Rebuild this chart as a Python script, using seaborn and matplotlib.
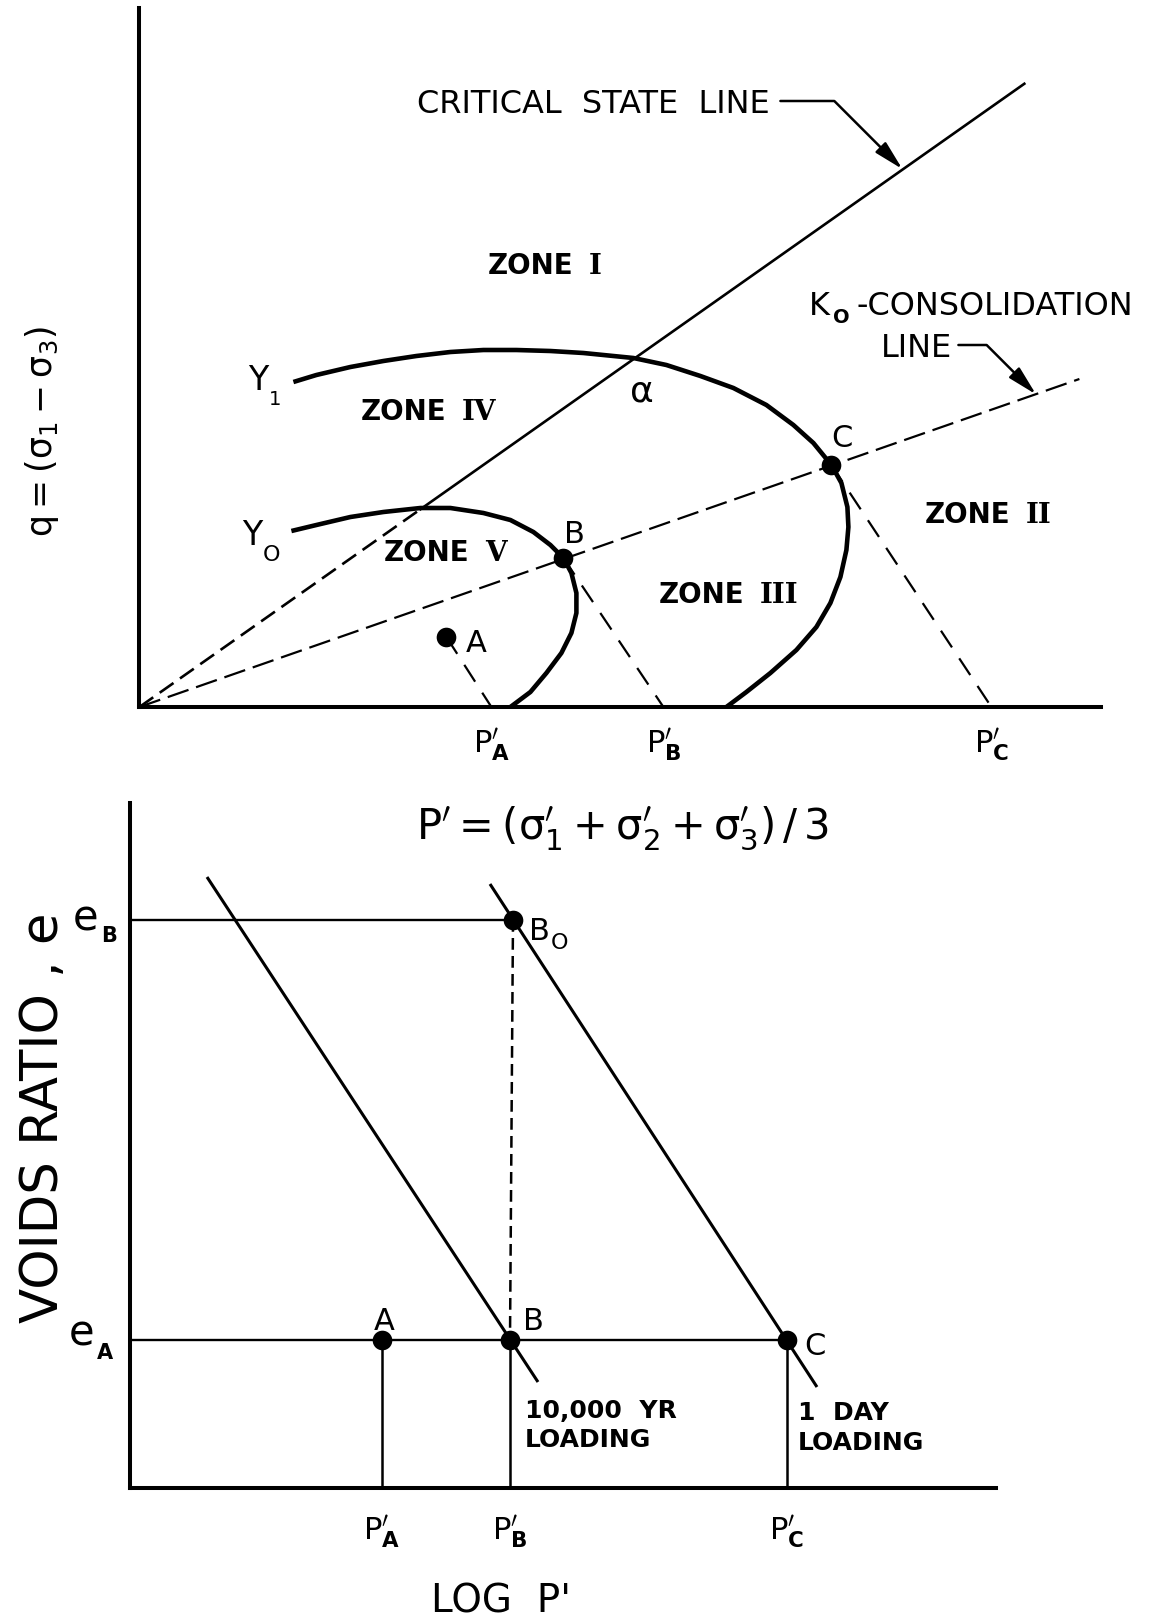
import matplotlib
matplotlib.use("Agg")
import matplotlib.pyplot as plt
from matplotlib import font_manager
import seaborn as sns

# ---------------- q - p' stress plane ----------------
csl_p = [0.0, 28.0, 88.6]            # critical state line: origin -> Y0 crossing -> end
csl_q = [0.0, 19.7, 62.4]
k0_p = [0.0, 94.0]                   # K0-consolidation line
k0_q = [0.0, 32.8]

# yield locus Y1 (through alpha and C)
y1_p = [15.4, 17.7, 21.1, 24.4, 27.7, 31.1, 34.4, 37.7, 41.1, 44.4, 49.4, 52.7,
        56.1, 59.4, 62.7, 65.4, 67.4, 69.2, 70.2, 70.8, 70.9, 70.7, 70.1, 69.1,
        67.7, 65.7, 63.1, 60.7, 58.7]
y1_q = [32.5, 33.2, 34.0, 34.6, 35.1, 35.5, 35.7, 35.7, 35.6, 35.4, 34.9, 34.2,
        33.1, 31.9, 30.2, 28.2, 26.4, 24.2, 22.4, 20.0, 18.0, 15.7, 13.0, 10.4,
        8.0, 5.7, 3.4, 1.5, 0.0]
# yield locus Y0 (through B)
y0_p = [15.2, 17.7, 21.1, 24.4, 28.1, 31.1, 34.4, 37.1, 39.4, 41.1, 42.4, 43.2,
        43.7, 43.7, 43.2, 42.2, 40.7, 39.1, 37.1]
y0_q = [17.6, 18.2, 19.0, 19.5, 19.9, 19.9, 19.4, 18.7, 17.5, 16.2, 14.9, 13.4,
        11.4, 9.4, 7.4, 5.4, 3.4, 1.5, 0.0]

state_names = ["A", "B", "C"]
state_p = [30.7, 42.4, 69.2]
state_q = [7.0, 14.9, 24.2]
foot_p = [35.2, 52.4, 85.2]          # P'_A, P'_B, P'_C on the p' axis
foot_labels = [r"$\mathrm{P}^{\prime}_{\mathbf{A}}$",
               r"$\mathrm{P}^{\prime}_{\mathbf{B}}$",
               r"$\mathrm{P}^{\prime}_{\mathbf{C}}$"]

# ---------------- e - log p' plane ----------------
e_A = 14.8
e_B = 56.8
logp_pts = [25.2, 38.0, 65.7]        # A, B, C
logp_B0 = 38.3
ncl_10000yr_logp = [7.7, 40.8]
ncl_10000yr_e = [61.1, 10.6]
ncl_1day_logp = [36.0, 68.7]
ncl_1day_e = [60.4, 10.1]

# ---------------- style ----------------
sns.set_theme(style="white")
plt.rcParams["font.family"] = ["DejaVu Sans"]
plt.rcParams["mathtext.fontset"] = "dejavusans"
plt.rcParams["lines.solid_capstyle"] = "butt"
plt.rcParams["text.color"] = "black"
plt.rcParams["xtick.color"] = "black"
plt.rcParams["xtick.labelcolor"] = "black"

installed = {f.name for f in font_manager.fontManager.ttflist}
narrow = "Liberation Sans Narrow" if "Liberation Sans Narrow" in installed else "DejaVu Sans"

INK = "black"

fig = plt.figure(figsize=(11.5, 16.19), dpi=100)
fig.patch.set_facecolor("white")
ax1 = fig.add_axes([0.12122, 0.56331, 0.83617, 0.43175])
ax2 = fig.add_axes([0.11304, 0.080914, 0.75304, 0.42310])


def draw(ax, x, y, lw, dash=None):
    sns.lineplot(x=x, y=y, ax=ax, color=INK, lw=lw, estimator=None,
                 sort=False, legend=False)
    ln = ax.lines[-1]
    ln.set_clip_on(False)
    ln.set_solid_joinstyle("round")
    if dash is not None:
        ln.set_dashes(dash)
    return ln


def frame(ax, xmax, ymax):
    ax.set_xlim(0, xmax)
    ax.set_ylim(0, ymax)
    for side in ("top", "right"):
        ax.spines[side].set_visible(False)
    for side in ("left", "bottom"):
        ax.spines[side].set_color(INK)
        ax.spines[side].set_linewidth(2.9)
    # transparent panels so labels that spill between them stay visible
    ax.patch.set_visible(False)
    ax.set_yticks([])
    ax.tick_params(axis="x", length=0, pad=14, labelsize=22, labelcolor=INK)


# ======== upper panel ========
frame(ax1, 96.16, 69.9)

draw(ax1, k0_p, k0_q, 1.6, dash=(9.9, 3.6))
draw(ax1, csl_p[:2], csl_q[:2], 1.9, dash=(6.4, 3.0))
draw(ax1, csl_p[1:], csl_q[1:], 1.9)
draw(ax1, y1_p, y1_q, 3.3)
draw(ax1, y0_p, y0_q, 3.3)
for sp, sq, fp in zip(state_p, state_q, foot_p):
    draw(ax1, [sp, fp], [sq, 0.0], 1.6, dash=(9.0, 5.9))
sns.scatterplot(x=state_p, y=state_q, ax=ax1, color=INK, s=200, linewidth=0,
                zorder=5, legend=False)

ax1.set_xticks(foot_p)
ax1.set_xticklabels(foot_labels)

arrow_kw = dict(arrowstyle="-|>,head_length=0.9,head_width=0.22",
                color=INK, lw=1.8, shrinkA=0, shrinkB=0, mutation_scale=20)
ax1.text(63.0, 59.4, "CRITICAL  STATE  LINE", fontsize=23, ha="right", va="baseline")
ax1.annotate("", xy=(76.3, 0.705 * 76.3), xytext=(64.1, 60.6),
             arrowprops=dict(connectionstyle="angle,angleA=0,angleB=-45,rad=0", **arrow_kw))
ax1.text(66.9, 39.2, "K", fontsize=23, ha="left", va="baseline")
ax1.text(70.2, 38.4, "O", fontsize=14, ha="center", va="baseline", fontweight="bold")
ax1.text(71.7, 39.2, "-CONSOLIDATION", fontsize=23, ha="left", va="baseline")
ax1.text(74.1, 35.0, "LINE", fontsize=23, ha="left", va="baseline")
ax1.annotate("", xy=(89.66, 0.3487 * 89.66), xytext=(81.9, 36.2),
             arrowprops=dict(connectionstyle="angle,angleA=0,angleB=-45,rad=0", **arrow_kw))

zones = [("ZONE", "I", 34.8, 43.3), ("ZONE", "IV", 22.1, 28.7),
         ("ZONE", "V", 24.4, 14.6), ("ZONE", "III", 51.9, 10.4),
         ("ZONE", "II", 78.5, 18.4)]
for word, num, zx, zy in zones:
    ax1.text(zx, zy, word, fontsize=20, fontweight="bold", ha="left", va="baseline")
    ax1.annotate(num, xy=(zx, zy), xytext=(73, 0), textcoords="offset points",
                 fontsize=20, fontweight="bold", family="DejaVu Serif",
                 ha="left", va="baseline")

ax1.text(11.9, 31.7, "Y", fontsize=24, ha="center", va="baseline")
ax1.text(13.6, 30.2, "1", fontsize=14, ha="center", va="baseline")
ax1.text(11.3, 16.2, "Y", fontsize=24, ha="center", va="baseline")
ax1.text(13.2, 14.6, "O", fontsize=16, ha="center", va="baseline")
ax1.text(50.2, 30.5, "α", fontsize=26, ha="center", va="baseline")
ax1.text(state_p[2] + 1.1, state_q[2] + 1.8, "C", fontsize=22, ha="center", va="baseline")
ax1.text(state_p[1] + 1.1, state_q[1] + 1.5, "B", fontsize=22, ha="center", va="baseline")
ax1.text(state_p[0] + 3.0, state_q[0] - 1.5, "A", fontsize=22, ha="center", va="baseline")

ax1.text(48.3, -13.1,
         r"$\mathrm{P}^{\prime}=(\mathrm{\sigma}_{1}^{\prime}+\mathrm{\sigma}_{2}^{\prime}"
         r"+\mathrm{\sigma}_{3}^{\prime})\,/\,3$",
         fontsize=30, ha="center", va="baseline", zorder=10)
ax1.text(-9.7, 27.6, r"$\mathrm{q}=(\mathrm{\sigma}_{1}-\mathrm{\sigma}_{3})$", fontsize=25,
         rotation=90, ha="center", va="center")

# ======== lower panel ========
frame(ax2, 86.6, 68.5)
ax2.tick_params(axis="x", pad=18)

draw(ax2, [0.0, logp_B0], [e_B, e_B], 1.7)
draw(ax2, [0.0, logp_pts[2]], [e_A, e_A], 1.7)
for lp in logp_pts:
    draw(ax2, [lp, lp], [e_A, 0.0], 1.8)
draw(ax2, [logp_B0, logp_pts[1]], [e_B, e_A], 1.8, dash=(4.7, 2.5))
draw(ax2, ncl_10000yr_logp, ncl_10000yr_e, 2.2)
draw(ax2, ncl_1day_logp, ncl_1day_e, 2.2)
sns.scatterplot(x=logp_pts + [logp_B0], y=[e_A, e_A, e_A, e_B], ax=ax2,
                color=INK, s=200, linewidth=0, zorder=5, legend=False)

ax2.set_xticks(logp_pts)
ax2.set_xticklabels(foot_labels)

ax2.text(-4.4, e_B - 1.0, "e", fontsize=30, ha="center", va="baseline")
ax2.text(-2.1, e_B - 2.2, "B", fontsize=15, ha="center", va="baseline", fontweight="bold")
ax2.text(-4.8, e_A - 0.5, "e", fontsize=30, ha="center", va="baseline")
ax2.text(-2.5, e_A - 1.9, "A", fontsize=15, ha="center", va="baseline", fontweight="bold")

ax2.text(logp_B0 + 2.6, e_B - 2.0, "B", fontsize=22, ha="center", va="baseline")
ax2.text(logp_B0 + 4.7, e_B - 2.9, "O", fontsize=16, ha="center", va="baseline")
ax2.text(logp_pts[0] + 0.2, e_A + 1.0, "A", fontsize=22, ha="center", va="baseline")
ax2.text(logp_pts[1] + 2.3, e_A + 1.0, "B", fontsize=22, ha="center", va="baseline")
ax2.text(logp_pts[2] + 2.8, e_A - 1.5, "C", fontsize=22, ha="center", va="baseline")

ax2.text(39.5, 7.0, "10,000  YR", fontsize=18, fontweight="bold", ha="left", va="baseline")
ax2.text(39.5, 4.1, "LOADING", fontsize=18, fontweight="bold", ha="left", va="baseline")
ax2.text(66.8, 6.8, "1  DAY", fontsize=18, fontweight="bold", ha="left", va="baseline")
ax2.text(66.8, 3.8, "LOADING", fontsize=18, fontweight="bold", ha="left", va="baseline")

ax2.text(37.1, -12.4, "LOG  P'", fontsize=28, ha="center", va="baseline")
ax2.text(-8.6, 37.0, "VOIDS RATIO , e", fontsize=37, family=narrow,
         rotation=90, ha="center", va="center")

fig.savefig("out.png", dpi=100, facecolor="white")
